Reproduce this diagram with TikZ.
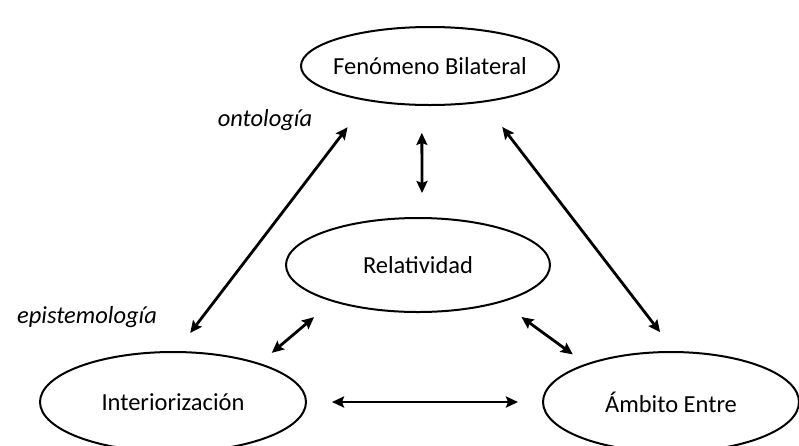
\documentclass[tikz,border=0pt]{standalone}
\usepackage{fontspec}
\setmainfont{Carlito}
\usepackage{tikz}
\usetikzlibrary{shapes.geometric,arrows.meta}

\begin{document}
\begin{tikzpicture}[x=1pt,y=-1pt,
  bubble/.style={draw,ellipse,line width=2pt,inner sep=-20pt,outer sep=0pt,font=\fontsize{24.5}{28}\selectfont},
  lbl/.style={inner sep=0pt,font=\fontsize{24.5}{28}\selectfont\itshape},
  link/.style={{Stealth[length=12pt,width=11pt,inset=2pt]}-{Stealth[length=12pt,width=11pt,inset=2pt]},line width=2.8pt}]
\useasboundingbox (0,0) rectangle (799,445);
\node[bubble,minimum width=258pt,minimum height=78pt] (fen) at (430,66) {Fenómeno Bilateral};
\node[bubble,minimum width=264pt,minimum height=94pt] (rel) at (418,265) {Relatividad};
\node[bubble,minimum width=266pt,minimum height=100pt] (int) at (173,402) {Interiorización};
\node[bubble,minimum width=256pt,minimum height=100pt] (amb) at (671,402) {Ámbito Entre};
\node[lbl] (onto) at (265,120) {ontología};
\node[lbl] (epis) at (87,317) {epistemología};
\draw[link,shorten <=28pt,shorten >=25pt] (fen.258) -- (rel.85);
\draw[link,shorten <=24pt,shorten >=34pt] (int.87) -- (fen.209);
\draw[link,shorten <=32pt,shorten >=25pt] (fen.326) -- (amb.85);
\draw[link,shorten <=17pt,shorten >=25pt] (int.24) -- (rel.203);
\draw[link,shorten <=26pt,shorten >=17pt] (rel.336) -- (amb.156);
\draw[link,shorten <=26pt,shorten >=25pt] (int.east) -- (amb.west);
\end{tikzpicture}
\end{document}
